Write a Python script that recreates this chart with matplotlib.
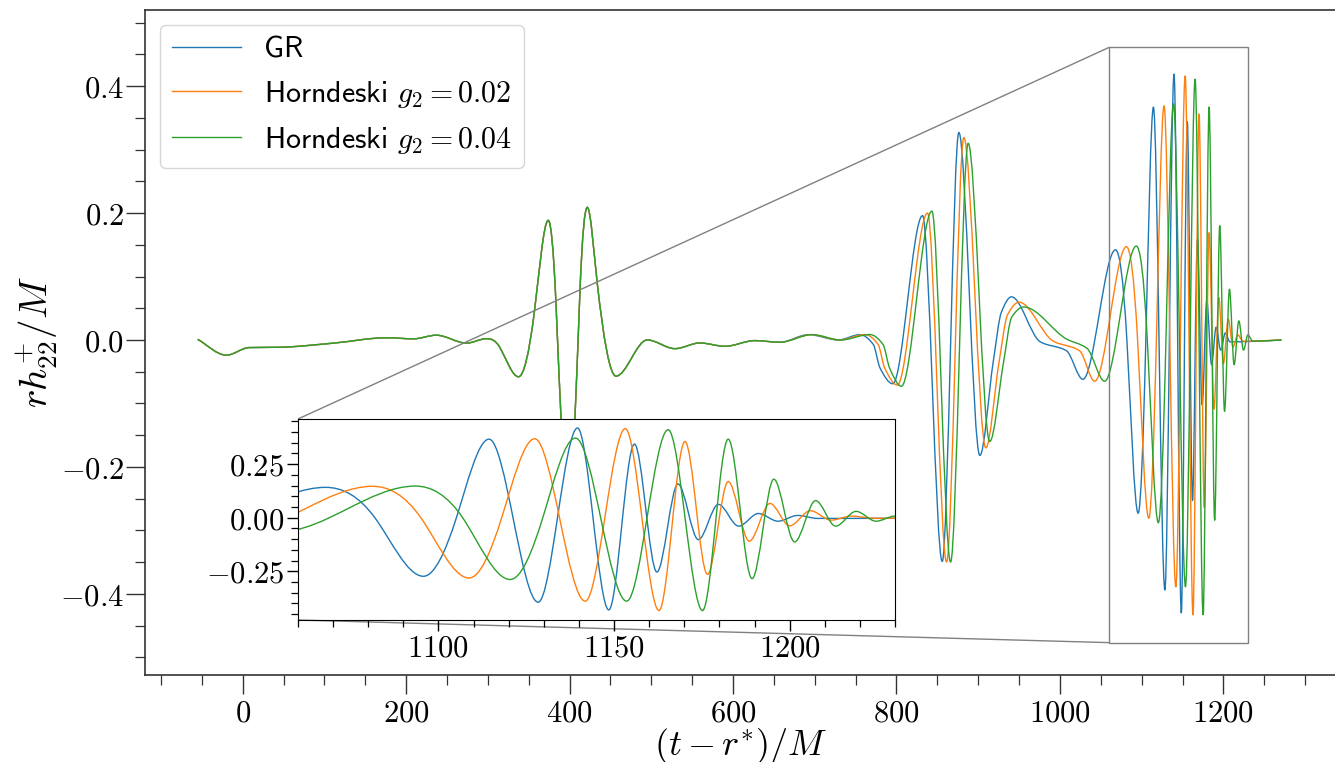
import numpy as np
import matplotlib
matplotlib.use('Agg')
import matplotlib.pyplot as plt
from matplotlib.path import Path
from matplotlib.patches import PathPatch
from matplotlib.lines import Line2D
from matplotlib.ticker import MultipleLocator, FuncFormatter
from mpl_toolkits.axes_grid1.inset_locator import mark_inset

plt.rcParams['mathtext.fontset'] = 'cm'

# waveform turning points (t in M, h = r h22+/M)
# part common to the three runs
t_shared = [-55, -20, 8, 45, 111, 176, 209, 237, 274, 298, 314.8, 337.5, 356.8, 373.9, 383.3,
            398.5, 412.7, 421.7, 433.9, 456.8, 495, 529, 559.5, 590, 626.8, 657.4]
h_shared = [0.001, -0.024, -0.012, -0.0115, -0.005, 0.0035, 0.0018, 0.0075, -0.005, 0.002, -0.012,
            -0.058, 0.043, 0.1885, 0.059, -0.28, 0.077, 0.209, 0.089, -0.057, 0.0, -0.0137, -0.0047,
            -0.010, -0.001, -0.0036]

# GR
t_gr = [692.5, 728.8, 755.3, 771.6, 779.8, 795.5, 831.9, 856.0, 876.3, 902.0, 918.3, 928.4, 940.7,
        976, 1008, 1028.1, 1067.9, 1081.9, 1095.7, 1105.1, 1114.4, 1128.4, 1139.6, 1148.5, 1155.8,
        1162.2, 1168.2, 1174.0, 1179.7, 1185.5, 1191.1, 1196.7, 1202.3, 1208, 1240, 1271]
h_gr = [0.0084, 0.0, 0.0084, -0.007, -0.044, -0.069, 0.196, -0.349, 0.327, -0.182, -0.035, 0.044, 0.068,
        -0.003, -0.017, -0.062, 0.142, 0.0, -0.273, 0.0, 0.367, -0.394, 0.419, -0.430, 0.344,
        -0.253, 0.158, -0.102, 0.0625, -0.039, 0.020, -0.016, 0.011, -0.003, -0.002, 0.0]

# Horndeski g2 = 0.02
t_h02 = [695.5, 730.5, 761.4, 777.5, 785.5, 801.0, 838.0, 861.3, 882.4, 909.3, 925.5, 936.0, 950.0,
         992, 1024, 1042.5, 1081.3, 1095.0, 1108.7, 1118.0, 1127.4, 1141.8, 1153.2, 1162.8, 1170.2,
         1176.6, 1182.5, 1188.5, 1194.4, 1200.0, 1205.9, 1211.8, 1217.6, 1224, 1271]
h_h02 = [0.0084, 0.0, 0.0085, -0.007, -0.044, -0.071, 0.200, -0.350, 0.319, -0.170, -0.035, 0.040, 0.0595,
         -0.002, -0.017, -0.065, 0.147, 0.0, -0.281, 0.0, 0.369, -0.389, 0.416, -0.433, 0.356,
         -0.264, 0.169, -0.109, 0.067, -0.0375, 0.033, -0.011, 0.008, -0.002, 0.0]

# Horndeski g2 = 0.04
t_h04 = [697.0, 732.0, 767.5, 783.5, 791.5, 806.0, 843.3, 866.2, 887.7, 914.1, 931.0, 941.0, 955.7,
         1008, 1033, 1054.7, 1093.4, 1106.9, 1120.4, 1129.7, 1139.0, 1153.6, 1165.4, 1175.2, 1182.5,
         1189.3, 1195.5, 1201.4, 1207.4, 1213.1, 1218.9, 1224.6, 1230, 1236, 1271]
h_h04 = [0.0084, 0.0, 0.0085, -0.007, -0.044, -0.073, 0.203, -0.350, 0.310, -0.160, -0.035, 0.036, 0.052,
         0.0015, -0.013, -0.065, 0.148, 0.0, -0.288, 0.0, 0.372, -0.389, 0.411, -0.433, 0.367,
         -0.284, 0.180, -0.1125, 0.080, -0.039, 0.030, -0.016, 0.008, -0.002, 0.0]

labels = ['GR', r'Horndeski $g_2 = 0.02$', r'Horndeski $g_2 = 0.04$']
colors = ['tab:blue', 'tab:orange', 'tab:green']
series = [(t_shared + t_gr, h_shared + h_gr),
          (t_shared + t_h02, h_shared + h_h02),
          (t_shared + t_h04, h_shared + h_h04)]


def smooth_path(t, h):
    # cubic through the read points drawn as bezier segments:
    # flat at turning points, monotone (Fritsch-Carlson) elsewhere
    t = np.asarray(t, float)
    h = np.asarray(h, float)
    n = len(h)
    dt = np.diff(t)
    d = np.diff(h) / dt
    turn = np.zeros(n, bool)
    turn[1:-1] = d[:-1] * d[1:] <= 0
    m = np.zeros(n)
    m[0], m[-1] = d[0], d[-1]
    for k in range(1, n - 1):
        if turn[k]:
            continue
        if 1 < k < n - 2 and turn[k - 1] and turn[k + 1]:
            # mid-swing point between two turning points
            s = 1.5 * (h[k + 1] - h[k - 1]) / (t[k + 1] - t[k - 1])
            lim = 3 * min(abs(d[k - 1]), abs(d[k]))
            m[k] = np.sign(s) * min(abs(s), lim)
        else:
            w1 = 2 * dt[k] + dt[k - 1]
            w2 = dt[k] + 2 * dt[k - 1]
            m[k] = (w1 + w2) / (w1 / d[k - 1] + w2 / d[k])
    verts = [(t[0], h[0])]
    codes = [Path.MOVETO]
    for k in range(n - 1):
        s = dt[k] / 3
        verts += [(t[k] + s, h[k] + m[k] * s), (t[k + 1] - s, h[k + 1] - m[k + 1] * s), (t[k + 1], h[k + 1])]
        codes += [Path.CURVE4] * 3
    return Path(verts, codes)


def fmt(decimals):
    def f(v, pos):
        v = round(v, 4) + 0.0
        return '$' + format(v, '.%df' % decimals) + '$'
    return FuncFormatter(f)


fig = plt.figure(figsize=(13.35, 7.62), dpi=100)
ax = fig.add_axes([145 / 1335, 1 - 675 / 762, (1337 - 145) / 1335, (675 - 10) / 762])

for (t, h), c in zip(series, colors):
    ax.add_patch(PathPatch(smooth_path(t, h), fill=False, edgecolor=c, lw=1.0, joinstyle='round'))

ax.set_xlim(-119.5, 1339)
ax.set_ylim(-0.528, 0.52)
ax.xaxis.set_major_locator(MultipleLocator(200))
ax.xaxis.set_minor_locator(MultipleLocator(50))
ax.yaxis.set_major_locator(MultipleLocator(0.2))
ax.yaxis.set_minor_locator(MultipleLocator(0.05))
ax.xaxis.set_major_formatter(fmt(0))
ax.yaxis.set_major_formatter(fmt(1))
ax.tick_params(which='major', direction='out', length=14, width=1.0, labelsize=22, color='0.2')
ax.tick_params(which='minor', direction='out', length=7, width=0.9, color='0.2')
ax.tick_params(axis='x', pad=3)
ax.tick_params(axis='y', pad=1)
for sp in ax.spines.values():
    sp.set_color('0.2')
    sp.set_linewidth(1.2)

ax.set_xlabel(r'$(t-r^{*})/M$', fontsize=26, labelpad=-1)
ax.set_ylabel(r'$rh^{+}_{22}/M$', fontsize=28, labelpad=0)

handles = [Line2D([], [], color=c, lw=1.0) for c in colors]
ax.legend(handles, labels, loc='upper left', prop={'family': 'cmss10', 'size': 21.5}, fancybox=True,
          edgecolor='0.8', handlelength=2.3, handletextpad=0.8, borderaxespad=0.5)

# zoomed inset on the merger
axins = fig.add_axes([298 / 1335, 1 - 620 / 762, (895 - 298) / 1335, (620 - 419) / 762])
for (t, h), c in zip(series, colors):
    axins.add_patch(PathPatch(smooth_path(t, h), fill=False, edgecolor=c, lw=1.0, joinstyle='round'))
axins.set_xlim(1060, 1230)
axins.set_ylim(-0.477, 0.461)
axins.xaxis.set_major_locator(MultipleLocator(50))
axins.xaxis.set_minor_locator(MultipleLocator(10))
axins.yaxis.set_major_locator(MultipleLocator(0.25))
axins.yaxis.set_minor_locator(MultipleLocator(0.05))
axins.xaxis.set_major_formatter(fmt(0))
axins.yaxis.set_major_formatter(fmt(2))
axins.tick_params(which='major', direction='out', length=8, width=1.0, labelsize=22, pad=2)
axins.tick_params(which='minor', direction='out', length=5, width=0.9)

mark_inset(ax, axins, loc1=2, loc2=3, fc='none', ec='0.5', lw=1.0)

fig.savefig('out.png', dpi=100)
